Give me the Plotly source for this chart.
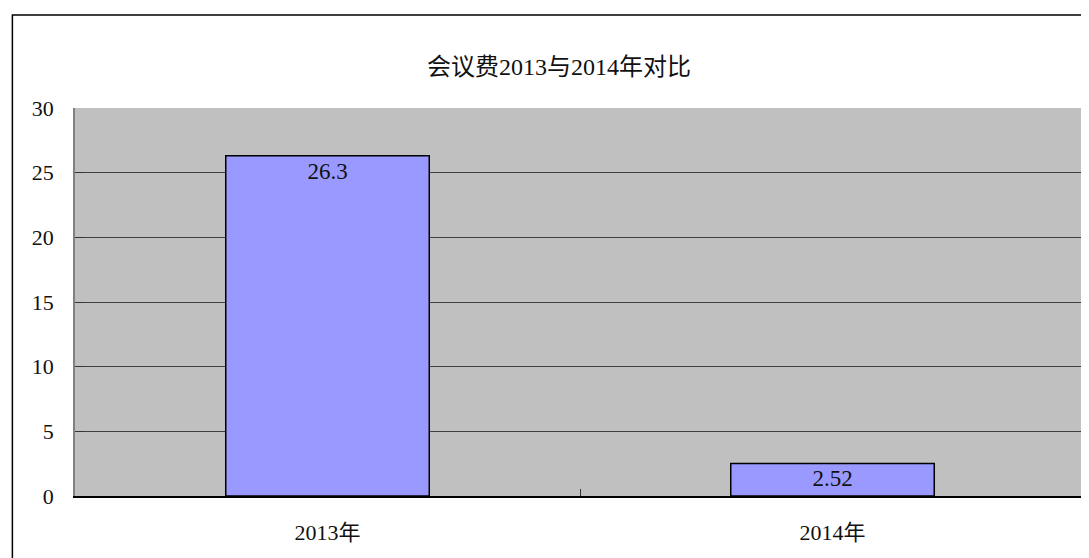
import plotly.graph_objects as go

categories = ["2013年", "2014年"]
values = [26.3, 2.52]
title_text = "会议费2013与2014年对比"

font_family = "Liberation Serif, DejaVu Serif, Noto Sans CJK SC"

fig = go.Figure(go.Bar(
    x=categories, y=values,
    marker=dict(color="#9999FF", line=dict(color="#000000", width=1.5)),
    width=0.403,
    text=values, texttemplate="%{y}", textposition="inside",
    insidetextanchor="end",
    textfont=dict(family=font_family, size=23, color="#111111"),
    hoverinfo="skip",
))

fig.update_layout(
    width=1081, height=550,
    margin=dict(l=67, r=2, t=100, b=62),
    paper_bgcolor="white", plot_bgcolor="#C0C0C0",
    font=dict(family=font_family, size=22, color="#111111"),
    showlegend=False,
    bargap=0.5,
    annotations=[dict(text=title_text, xref="paper", yref="paper",
                      x=0.479, y=1.144, showarrow=False,
                      font=dict(family=font_family, size=24, color="#111111"))],
    shapes=[dict(type="rect", xref="paper", yref="paper",
                 x0=-0.062, x1=1.05, y0=-0.5, y1=1.2397,
                 line=dict(color="#000000", width=1.5), layer="below")],
)
fig.update_yaxes(range=[0, 30], dtick=5, showgrid=True, gridcolor="#404040", gridwidth=1,
                 showline=True, linecolor="#808080", linewidth=1.5, mirror=True,
                 ticks="inside", ticklen=9, tickcolor="#333333", zeroline=False,
                 ticklabelstandoff=15, fixedrange=True)
fig.update_xaxes(showline=True, linecolor="#000000", linewidth=1.5,
                 ticks="inside", tickson="boundaries", ticklen=7, tickcolor="#333333",
                 ticklabelstandoff=16, fixedrange=True)

fig.write_html("out.html")
